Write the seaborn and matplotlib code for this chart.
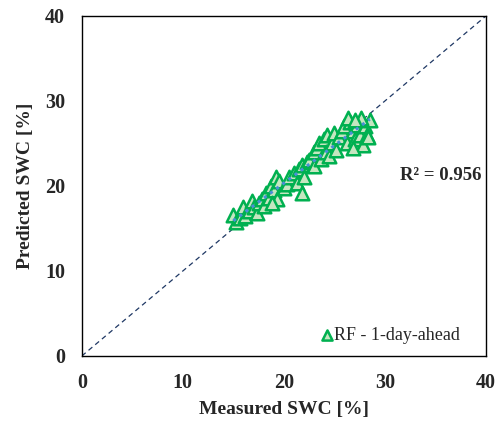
import numpy as np
import pandas as pd
import matplotlib
matplotlib.use("Agg")
import matplotlib.pyplot as plt
import seaborn as sns

measured = [15.0, 15.3, 15.7, 16.0, 16.2, 16.5, 16.8, 17.0, 17.3, 17.5, 17.8, 18.0,
            18.2, 18.5, 18.7, 19.0, 19.2, 19.5, 19.3, 18.8, 20.0, 20.3, 20.5, 21.0,
            21.3, 21.5, 21.8, 21.8, 22.0, 22.3, 22.5, 23.0, 23.0, 23.3, 23.5, 23.7,
            24.0, 24.2, 24.5, 24.3, 24.8, 25.0, 25.2, 25.5, 25.8, 26.0, 26.2, 26.5,
            26.3, 26.8, 27.0, 27.2, 27.5, 27.8, 28.0, 28.2, 28.5, 27.6, 26.8, 27.0, 28.3]
predicted = [16.6, 15.8, 16.2, 17.5, 16.5, 17.0, 18.2, 17.5, 16.8, 18.0, 18.5, 17.6,
             19.2, 18.6, 20.0, 19.5, 21.0, 20.6, 18.5, 18.0, 19.8, 20.2, 21.0, 21.5,
             20.3, 22.0, 22.5, 19.2, 21.0, 22.8, 23.0, 22.3, 24.0, 24.5, 25.0, 23.2,
             25.5, 24.0, 23.5, 26.0, 25.0, 26.2, 24.2, 25.8, 26.5, 27.0, 25.0, 27.5,
             28.0, 26.5, 25.5, 27.2, 26.0, 24.8, 27.0, 26.0, 27.8, 28.0, 24.5, 27.8, 25.8]
series_label = "RF - 1-day-ahead"
r2_text = "R² = 0.956"
ticks = [0, 10, 20, 30, 40]

df = pd.DataFrame({"Measured": measured, "Predicted": predicted})

sns.set_style("white")
plt.rcParams['font.family'] = ['Liberation Serif', 'DejaVu Serif']

fig = plt.figure(figsize=(5.02, 4.32), dpi=100)
ax = fig.add_axes([0.163, 0.176, 0.805, 0.787])

ax.plot([0, 40], [0, 40], ls=(0, (4, 3)), color="#1f3864", lw=0.9, zorder=1)

sns.scatterplot(data=df, x="Measured", y="Predicted", ax=ax, marker="^", s=95,
                facecolor="#c5e6c0", edgecolor="#00b050", linewidth=1.8,
                label=series_label, zorder=3)

sns.regplot(data=df, x="Measured", y="Predicted", ax=ax, scatter=False, ci=None,
            line_kws=dict(color="#4a8fd6", ls=(0, (1, 1.5)), lw=2.2, zorder=5), truncate=True)

ax.set_xlim(0, 40)
ax.set_ylim(0, 40)
ax.set_xticks(ticks)
ax.set_yticks(ticks)
ax.tick_params(length=0, labelsize=14.5, pad=12)
for lab in ax.get_xticklabels() + ax.get_yticklabels():
    lab.set_fontweight("bold")
ax.set_xlabel("Measured SWC [%]", fontsize=14, fontweight="bold", labelpad=6)
ax.set_ylabel("Predicted SWC [%]", fontsize=14, fontweight="bold", labelpad=8)
for sp in ax.spines.values():
    sp.set_color("black")
    sp.set_linewidth(1.0)

ax.text(39.6, 21.2, r2_text, ha="right", va="center", fontsize=13.5, fontweight="bold")

leg = ax.legend(loc="lower right", bbox_to_anchor=(0.965, 0.0), frameon=False,
                fontsize=13, handlelength=1.0, handletextpad=-0.1,
                borderaxespad=0.25, markerscale=0.75)

fig.savefig("out.png", dpi=100)
